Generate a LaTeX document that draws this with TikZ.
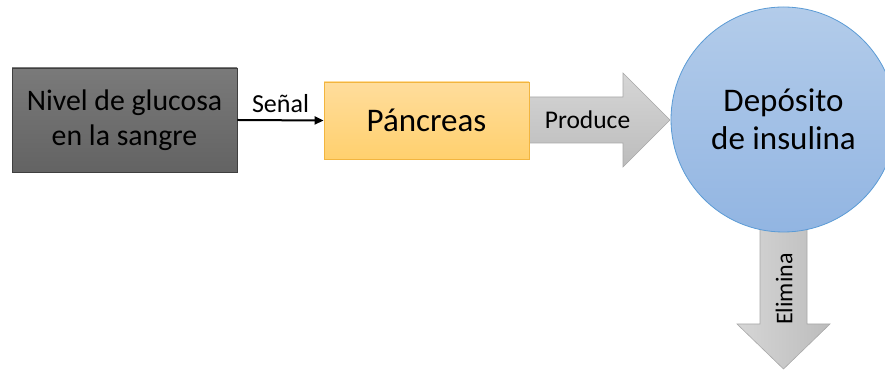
\documentclass[tikz,border=0pt]{standalone}
\usepackage{fontspec}
\setmainfont{Carlito}
\usetikzlibrary{arrows.meta}

\definecolor{grayTop}{HTML}{7A7A7A}
\definecolor{grayBot}{HTML}{636363}
\definecolor{grayEdge}{HTML}{3F3F3F}
\definecolor{pancTop}{HTML}{FFDD9C}
\definecolor{pancBot}{HTML}{FFD06E}
\definecolor{pancEdge}{HTML}{F2B53F}
\definecolor{arrTop}{HTML}{D6D6D6}
\definecolor{arrBot}{HTML}{BCBCBC}
\definecolor{arrEdge}{HTML}{A8A8A8}
\definecolor{circTop}{HTML}{B3CCEA}
\definecolor{circBot}{HTML}{92B5E2}
\definecolor{circEdge}{HTML}{5B9BD5}

\tikzset{
  blockarrow/.style={top color=arrTop, bottom color=arrBot, draw=arrEdge, line width=0.6pt},
  sidearrow/.style={left color=arrTop, right color=arrBot, draw=arrEdge, line width=0.6pt},
  lbl/.style={inner sep=0pt, font=\fontsize{25.5}{30}\selectfont}
}

\begin{document}
\begin{tikzpicture}[x=1pt,y=1pt]
  \useasboundingbox (0,0) rectangle (885,371);
  \clip (0,0) rectangle (885,371);

  % input box
  \node[draw=grayEdge, line width=0.8pt, top color=grayTop, bottom color=grayBot,
        minimum width=225pt, minimum height=104pt, inner sep=0pt, align=center,
        font=\fontsize{29.8}{35}\selectfont] (glucosa) at (124.5,251)
        {Nivel de glucosa\\en la sangre};

  % block arrow "Produce" (drawn under the boxes)
  \shade[blockarrow] (529,228) -- (623,228) -- (623,204) -- (670,251)
        -- (623,298) -- (623,274) -- (529,274) -- cycle;
  \node[lbl] (produce) at (587.5,251) {Produce};

  % down arrow "Elimina"
  \shade[sidearrow] (760,180) -- (807,180) -- (807,47) -- (830,47)
        -- (783.5,2) -- (737,47) -- (760,47) -- cycle;
  \node[lbl, font=\fontsize{24}{29}\selectfont, rotate=90] (elimina) at (784,82) {Elimina};

  % pancreas box
  \node[draw=pancEdge, line width=0.8pt, top color=pancTop, bottom color=pancBot,
        minimum width=205pt, minimum height=77pt, inner sep=0pt,
        font=\fontsize{33}{38}\selectfont] (pancreas) at (426.5,250.5) {Páncreas};

  % insulin store
  \node[circle, draw=circEdge, line width=0.8pt, top color=circTop, bottom color=circBot,
        minimum size=225pt, inner sep=0pt, align=center,
        font=\fontsize{33}{38}\selectfont] (deposito) at (783.5,251.5)
        {Depósito\\de insulina};

  % signal connector
  \draw[line width=2pt, -{Triangle[length=9pt,width=8pt]}]
        (glucosa.east) -- (pancreas.west)
        node[midway, above=7pt, lbl, font=\fontsize{26}{31}\selectfont] (senal) {Señal};
\end{tikzpicture}
\end{document}
